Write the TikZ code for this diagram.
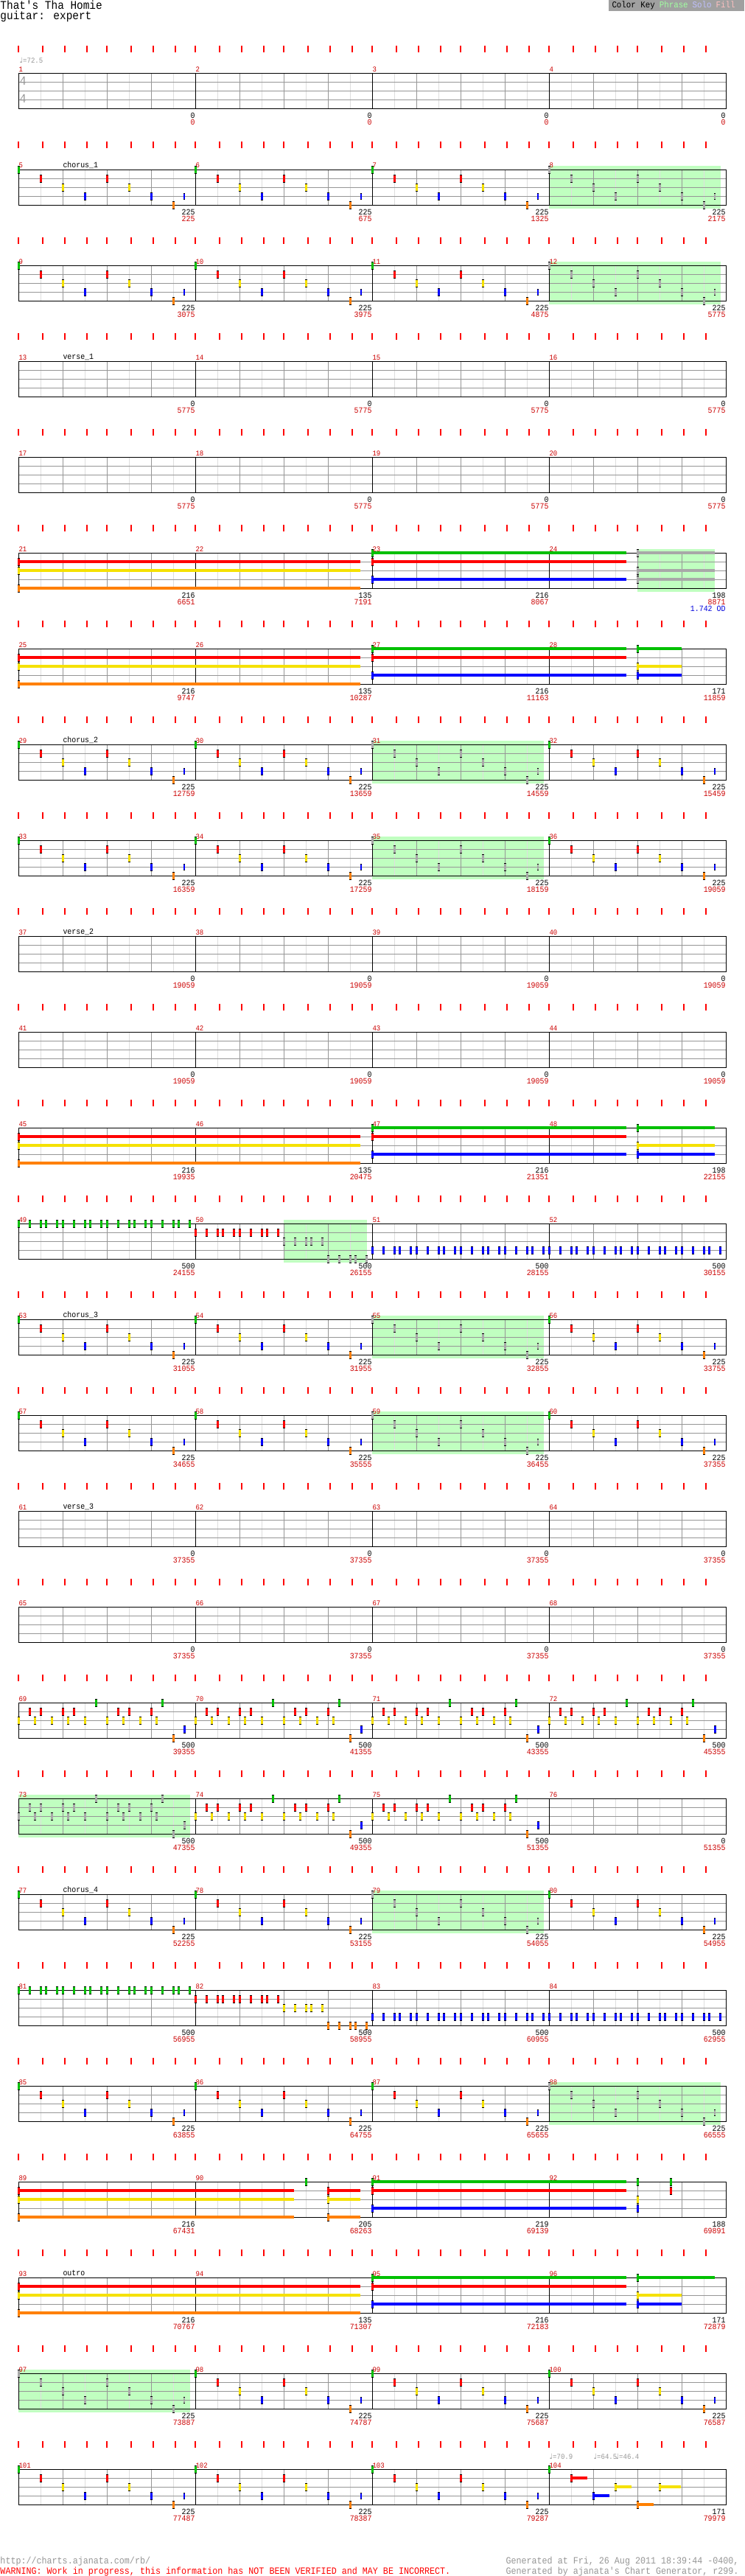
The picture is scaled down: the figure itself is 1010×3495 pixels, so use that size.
\documentclass[tikz,border=0pt]{standalone}
\usepackage{fontspec}
\usepackage{xcolor}
\usepackage{tikz}
\usetikzlibrary{positioning}
\newfontfamily\pxfont[FakeStretch=0.9]{Liberation Mono}
\newfontfamily\symfont{DejaVu Sans}

\definecolor{fgreen}{RGB}{0,192,0}
\definecolor{fred}{RGB}{255,0,0}
\definecolor{fyellow}{RGB}{245,225,0}
\definecolor{fblue}{RGB}{0,0,255}
\definecolor{forange}{RGB}{255,128,0}
\definecolor{fgray}{RGB}{168,168,168}
\definecolor{phrasegreen}{RGB}{192,255,192}
\definecolor{gridd}{RGB}{150,150,150}
\definecolor{gridl}{RGB}{222,222,222}
\definecolor{numred}{RGB}{204,0,0}
\definecolor{tickred}{RGB}{255,0,0}
\definecolor{tempogray}{RGB}{150,150,150}
\definecolor{keygray}{RGB}{160,160,160}
\definecolor{odblue}{RGB}{0,0,220}
\definecolor{keyphrase}{RGB}{160,255,160}
\definecolor{keysolo}{RGB}{192,192,255}
\definecolor{keyfill}{RGB}{255,192,192}

% row helpers
\newcommand{\setrow}[1]{\pgfmathsetmacro{\rtop}{100+130*#1}\pgfmathtruncatemacro{\rfirst}{4*#1+1}}
\newcommand{\staffrow}{%
  \foreach \mm in {0,...,3}{%
    \foreach \dx in {0,33,63,93,120,153,183,213}{%
      \draw[tickred, line width=2pt] (25+240*\mm+\dx,\rtop-38) -- ++(0,9);}}%
  \foreach \k in {1,3,...,31}{\draw[gridl] (25+30*\k,\rtop) -- ++(0,48);}%
  \foreach \k in {2,4,6,10,12,14,18,20,22,26,28,30}{\draw[gridd] (25+30*\k,\rtop) -- ++(0,48);}%
  \foreach \k in {1,2,3}{\draw[gridd] (25,\rtop+12*\k) -- (985,\rtop+12*\k);}%
  \foreach \k in {8,16,24}{\draw (25+30*\k,\rtop) -- ++(0,48);}%
  \draw (25,\rtop) rectangle (985,\rtop+48);%
  \foreach \mm in {0,...,3}{%
    \pgfmathtruncatemacro{\mn}{\rfirst+\mm}%
    \node[mnum] at (25+240*\mm,\rtop-2) {\mn};}}
\newcommand{\rownums}[1]{%
  \foreach \nb/\nr [count=\ni from 0] in {#1}{%
    \node[nblack] at (265+240*\ni,\rtop+61) {\nb};
    \node[nred] at (265+240*\ni,\rtop+70) {\nr};}}
\newcommand{\phrasebox}[2]{\fill[phrasegreen] (#1,\rtop-5) rectangle (#2,\rtop+53);}

% gems and sustains
\newcommand{\gem}[3]{%
  \fill[black] ({#2-1.5},{\rtop+12*#3-5.5}) rectangle ({#2+1.5},{\rtop+12*#3+5.5});%
  \fill[fill=#1] ({#2-1.5},{\rtop+12*#3-4.5}) rectangle ({#2+1.5},{\rtop+12*#3+4.5});}
\newcommand{\hgem}[3]{%
  \fill[black] ({#2-1.2},{\rtop+12*#3-4.5}) rectangle ({#2+1.2},{\rtop+12*#3+4.5});%
  \fill[fill=#1] ({#2-1.2},{\rtop+12*#3-3.5}) rectangle ({#2+1.2},{\rtop+12*#3+3.5});}
\newcommand{\sus}[4]{%
  \fill[fill=#1] ({#2},{\rtop+12*#4-1.6}) rectangle ({#3},{\rtop+12*#4+1.6});%
  \gem{#1}{#2}{#4}}
\newcommand{\lanesnormal}{\def\colG{fgreen}\def\colR{fred}\def\colY{fyellow}\def\colB{fblue}\def\colO{forange}}
\newcommand{\lanesgray}{\def\colG{fgray}\def\colR{fgray}\def\colY{fgray}\def\colB{fgray}\def\colO{fgray}}
\newcommand{\chorusbar}[1]{%
  \gem{\colG}{#1}{0}\gem{\colR}{#1+30}{1}\gem{\colY}{#1+60}{2}\gem{\colB}{#1+90}{3}%
  \gem{\colR}{#1+120}{1}\gem{\colY}{#1+150}{2}\gem{\colB}{#1+180}{3}%
  \gem{\colO}{#1+210}{4}\hgem{\colB}{#1+225}{3}}
\newcommand{\densebar}[1]{%
  \foreach \dx in {0,22.5,45,67.5,90,120,142.5,165,187.5}{\gem{\colY}{#1+\dx}{2}}%
  \foreach \dx in {15,30,60,75,135,150,180}{\gem{\colR}{#1+\dx}{1}}%
  \gem{\colG}{#1+105}{0}\gem{\colG}{#1+195}{0}%
  \gem{\colO}{#1+210}{4}\gem{\colB}{#1+225}{3}}
\newcommand{\runbeats}[4]{%
  \foreach \bt in {#4}{\foreach \dx in {0,15,30,37.5,52.5}{\gem{#1}{#2+60*\bt+\dx}{#3}}}}
\newcommand{\holdsA}{\sus{fred}{25}{489}{1}\sus{fyellow}{25}{489}{2}\sus{forange}{25}{489}{4}}
\newcommand{\holdsB}{\sus{fgreen}{505}{850}{0}\sus{fred}{505}{850}{1}\sus{fblue}{505}{850}{3}}

\tikzset{
  mnum/.style={anchor=base west, inner sep=0pt, text=numred, font=\pxfont\fontsize{10}{10}\selectfont},
  nblack/.style={anchor=base east, inner sep=0pt, text=black, font=\pxfont\fontsize{11}{11}\selectfont},
  nred/.style={nblack, text=numred},
  nblue/.style={nblack, text=odblue},
  seclbl/.style={anchor=base west, inner sep=0pt, text=black, font=\pxfont\fontsize{11}{11}\selectfont},
  tempo/.style={anchor=base west, inner sep=0pt, text=tempogray, font=\pxfont\fontsize{10}{10}\selectfont},
  tsig/.style={anchor=base west, inner sep=0pt, text=tempogray, font=\pxfont\fontsize{17}{17}\selectfont},
  foot/.style={anchor=base west, inner sep=0pt, text=tempogray, font=\pxfont\fontsize{13}{13}\selectfont},
  keytxt/.style={anchor=base west, inner sep=0pt, font=\pxfont\fontsize{12}{12}\selectfont}
}

\begin{document}
\begin{tikzpicture}[x=1pt, y=-1pt, line width=1pt]
  \useasboundingbox (0,0) rectangle (1010,3495);
  \fill[white] (0,0) rectangle (1010,3495);
  \lanesnormal
  % header
  \node[anchor=base west, inner sep=0pt, font=\pxfont\fontsize{16}{16}\selectfont] (title) at (0,13) {That's Tha Homie};
  \node[anchor=base west, inner sep=0pt, font=\pxfont\fontsize{16}{16}\selectfont] (part) at (0,27) {guitar: expert};
  \fill[keygray] (826,0) rectangle (1010,15);
  \node[keytxt] (key) at (830,11) {Color Key};
  \node[keytxt, text=keyphrase, base right=5pt of key] (kphrase) {Phrase};
  \node[keytxt, text=keysolo, base right=5pt of kphrase] (ksolo) {Solo};
  \node[keytxt, text=keyfill, base right=5pt of ksolo] (kfill) {Fill};

  % row 1
  \setrow{0}
  \staffrow
  \node[tempo] (t1) at (26,\rtop-14) {{\symfont ♩}=72.5};
  \node[tsig] (ts1) at (26,\rtop+16) {4};
  \node[tsig] (ts2) at (26,\rtop+40) {4};
  \rownums{0/0,0/0,0/0,0/0}

  % chorus_1
  \setrow{1}
  \phrasebox{745}{978}
  \staffrow
  \node[seclbl] at (85,\rtop-3) {chorus\_1};
  \chorusbar{25}\chorusbar{265}\chorusbar{505}{\lanesgray\chorusbar{745}}
  \rownums{225/225,225/675,225/1325,225/2175}

  \setrow{2}
  \phrasebox{745}{978}
  \staffrow
  \chorusbar{25}\chorusbar{265}\chorusbar{505}{\lanesgray\chorusbar{745}}
  \rownums{225/3075,225/3975,225/4875,225/5775}

  % verse_1
  \setrow{3}
  \staffrow
  \node[seclbl] at (85,\rtop-3) {verse\_1};
  \rownums{0/5775,0/5775,0/5775,0/5775}

  \setrow{4}
  \staffrow
  \rownums{0/5775,0/5775,0/5775,0/5775}

  \setrow{5}
  \phrasebox{865}{970}
  \staffrow
  \holdsA\holdsB
  \sus{fgray}{865}{970}{0}\sus{fgray}{865}{970}{2}\sus{fgray}{865}{970}{3}
  \rownums{216/6651,135/7191,216/8067,198/8871}
  \node[nblue] at (985,\rtop+79) {1.742 OD};

  \setrow{6}
  \staffrow
  \holdsA\holdsB
  \sus{fgreen}{865}{925}{0}\sus{fyellow}{865}{925}{2}\sus{fblue}{865}{925}{3}
  \rownums{216/9747,135/10287,216/11163,171/11859}

  % chorus_2
  \setrow{7}
  \phrasebox{505}{738}
  \staffrow
  \node[seclbl] at (85,\rtop-3) {chorus\_2};
  \chorusbar{25}\chorusbar{265}{\lanesgray\chorusbar{505}}\chorusbar{745}
  \rownums{225/12759,225/13659,225/14559,225/15459}

  \setrow{8}
  \phrasebox{505}{738}
  \staffrow
  \chorusbar{25}\chorusbar{265}{\lanesgray\chorusbar{505}}\chorusbar{745}
  \rownums{225/16359,225/17259,225/18159,225/19059}

  % verse_2
  \setrow{9}
  \staffrow
  \node[seclbl] at (85,\rtop-3) {verse\_2};
  \rownums{0/19059,0/19059,0/19059,0/19059}

  \setrow{10}
  \staffrow
  \rownums{0/19059,0/19059,0/19059,0/19059}

  \setrow{11}
  \staffrow
  \holdsA\holdsB
  \sus{fgreen}{865}{970}{0}\sus{fyellow}{865}{970}{2}\sus{fblue}{865}{970}{3}
  \rownums{216/19935,135/20475,216/21351,198/22155}

  \setrow{12}
  \phrasebox{385}{498}
  \staffrow
  \runbeats{fgreen}{25}{0}{0,1,2,3}
  \runbeats{fred}{265}{1}{0,1}\runbeats{fgray}{265}{2}{2}\runbeats{fgray}{265}{4}{3}
  \runbeats{fblue}{505}{3}{0,...,7}
  \rownums{500/24155,500/26155,500/28155,500/30155}

  % chorus_3
  \setrow{13}
  \phrasebox{505}{738}
  \staffrow
  \node[seclbl] at (85,\rtop-3) {chorus\_3};
  \chorusbar{25}\chorusbar{265}{\lanesgray\chorusbar{505}}\chorusbar{745}
  \rownums{225/31055,225/31955,225/32855,225/33755}

  \setrow{14}
  \phrasebox{505}{738}
  \staffrow
  \chorusbar{25}\chorusbar{265}{\lanesgray\chorusbar{505}}\chorusbar{745}
  \rownums{225/34655,225/35555,225/36455,225/37355}

  % verse_3
  \setrow{15}
  \staffrow
  \node[seclbl] at (85,\rtop-3) {verse\_3};
  \rownums{0/37355,0/37355,0/37355,0/37355}

  \setrow{16}
  \staffrow
  \rownums{0/37355,0/37355,0/37355,0/37355}

  \setrow{17}
  \staffrow
  \densebar{25}\densebar{265}\densebar{505}\densebar{745}
  \rownums{500/39355,500/41355,500/43355,500/45355}

  \setrow{18}
  \phrasebox{25}{258}
  \staffrow
  {\lanesgray\densebar{25}}\densebar{265}\densebar{505}
  \rownums{500/47355,500/49355,500/51355,0/51355}

  % chorus_4
  \setrow{19}
  \phrasebox{505}{738}
  \staffrow
  \node[seclbl] at (85,\rtop-3) {chorus\_4};
  \chorusbar{25}\chorusbar{265}{\lanesgray\chorusbar{505}}\chorusbar{745}
  \rownums{225/52255,225/53155,225/54055,225/54955}

  \setrow{20}
  \staffrow
  \runbeats{fgreen}{25}{0}{0,1,2,3}
  \runbeats{fred}{265}{1}{0,1}\runbeats{fyellow}{265}{2}{2}\runbeats{forange}{265}{4}{3}
  \runbeats{fblue}{505}{3}{0,...,7}
  \rownums{500/56955,500/58955,500/60955,500/62955}

  \setrow{21}
  \phrasebox{745}{978}
  \staffrow
  \chorusbar{25}\chorusbar{265}\chorusbar{505}{\lanesgray\chorusbar{745}}
  \rownums{225/63855,225/64755,225/65655,225/66555}

  \setrow{22}
  \staffrow
  \sus{fred}{25}{399}{1}\sus{fyellow}{25}{399}{2}\sus{forange}{25}{399}{4}
  \gem{fgreen}{415}{0}
  \sus{fred}{445}{489}{1}\sus{fyellow}{445}{489}{2}\sus{forange}{445}{489}{4}
  \holdsB
  \gem{fgreen}{865}{0}\gem{fyellow}{865}{2}\gem{fblue}{865}{3}
  \gem{fgreen}{910}{0}\gem{fred}{910}{1}
  \rownums{216/67431,205/68263,219/69139,188/69891}

  % outro
  \setrow{23}
  \staffrow
  \node[seclbl] at (85,\rtop-3) {outro};
  \holdsA\holdsB
  \sus{fgreen}{865}{970}{0}\sus{fyellow}{865}{925}{2}\sus{fblue}{865}{925}{3}
  \rownums{216/70767,135/71307,216/72183,171/72879}

  \setrow{24}
  \phrasebox{25}{258}
  \staffrow
  {\lanesgray\chorusbar{25}}\chorusbar{265}\chorusbar{505}\chorusbar{745}
  \rownums{225/73887,225/74787,225/75687,225/76587}

  \setrow{25}
  \staffrow
  \chorusbar{25}\chorusbar{265}\chorusbar{505}
  \gem{fgreen}{745}{0}
  \sus{fred}{775}{797}{1}\sus{fblue}{805}{827}{3}\sus{fyellow}{835}{857}{2}
  \sus{forange}{865}{887}{4}\sus{fyellow}{895}{924}{2}
  \node[tempo] (t2) at (745,\rtop-14) {{\symfont ♩}=70.9};
  \node[tempo] (t3) at (805,\rtop-14) {{\symfont ♩}=64.5};
  \node[tempo] (t4) at (835,\rtop-14) {{\symfont ♩}=46.4};
  \rownums{225/77487,225/78387,225/79287,171/79979}

  % footer
  \node[foot] (url) at (0,3478) {http://charts.ajanata.com/rb/};
  \node[foot, text=fred] (warn) at (0,3492) {WARNING: Work in progress, this information has NOT BEEN VERIFIED and MAY BE INCORRECT.};
  \node[foot, anchor=base east] (gen1) at (1003,3478) {Generated at Fri, 26 Aug 2011 18:39:44 -0400,};
  \node[foot, anchor=base east] (gen2) at (1003,3492) {Generated by ajanata's Chart Generator, r299.};
\end{tikzpicture}
\end{document}
